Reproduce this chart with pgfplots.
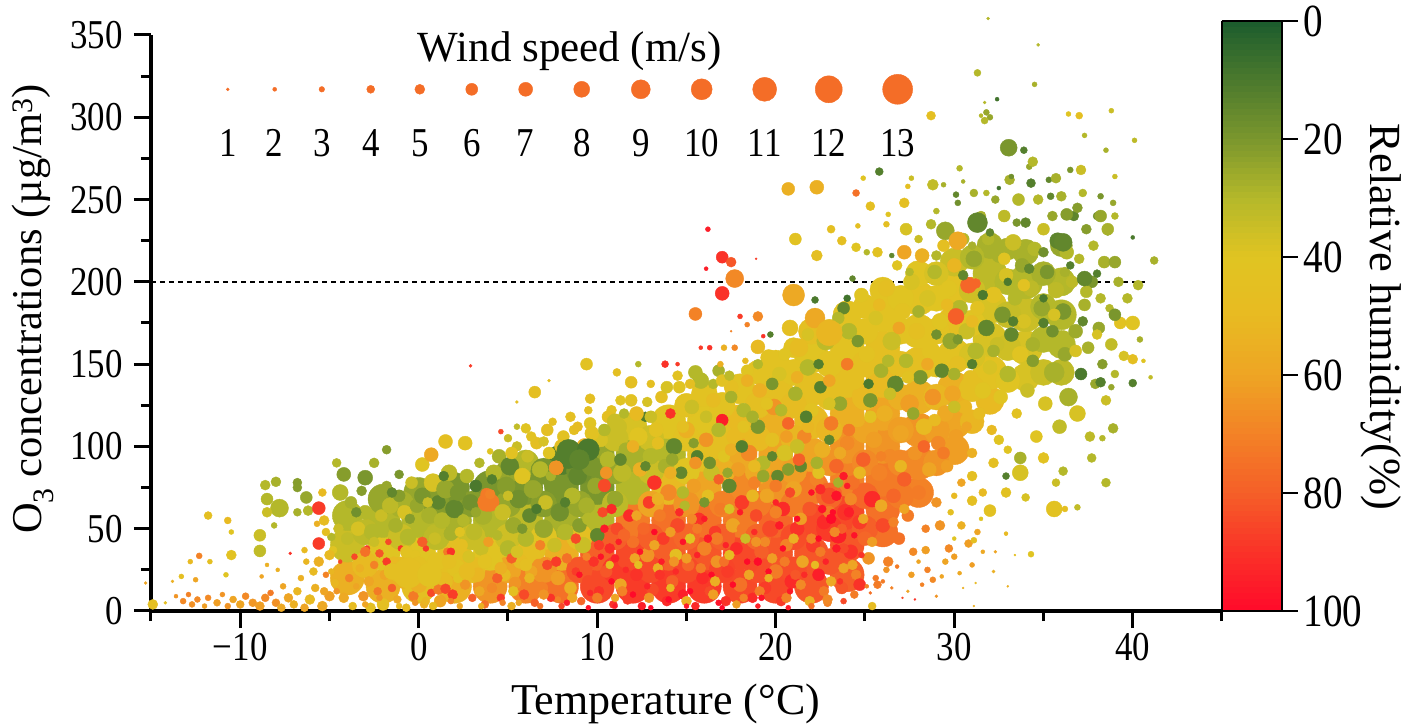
\documentclass[border=0pt]{standalone}
\usepackage{pgfplots}
\usepackage{pgfplotstable}
\usepackage{fontspec}
\setmainfont{Liberation Serif}
\newfontfamily\narrowfam[FakeStretch=0.85]{Liberation Serif}
\pgfplotsset{compat=1.18}
\pgfplotstableread{
x y r h
-4 20 17 55
-4 40 17 35
-4 58 15 30
-2 15 17 55
-2 35 17 40
-2 55 17 30
-2 68 15 25
0 15 17 45
0 35 17 40
0 55 17 30
0 72 15 25
2 15 17 55
2 35 17 45
2 55 17 28
2 75 15 20
4 15 17 65
4 35 17 40
4 55 17 30
4 75 17 20
6 15 17 70
6 35 17 45
6 55 17 32
6 75 17 20
6 90 13 30
8 15 17 75
8 35 17 55
8 55 17 28
8 75 17 20
8 92 15 12
10 15 17 85
10 35 17 80
10 55 17 30
10 75 17 20
10 95 17 25
12 15 17 88
12 35 17 85
12 55 17 72
12 75 17 30
12 95 17 28
12 112 14 38
14 15 17 88
14 35 17 80
14 55 17 75
14 75 17 50
14 95 17 30
14 115 17 40
16 15 17 88
16 35 17 82
16 55 17 75
16 75 17 60
16 95 17 45
16 115 17 40
16 132 13 42
18 15 17 85
18 35 17 85
18 55 17 72
18 75 17 68
18 95 17 58
18 115 17 50
18 135 15 42
20 15 17 85
20 35 17 82
20 55 17 78
20 75 17 65
20 95 17 60
20 115 17 55
20 135 17 45
20 150 14 42
22 15 17 82
22 35 17 82
22 55 17 85
22 75 17 72
22 95 17 60
22 115 17 50
22 135 17 45
22 155 17 40
22 170 13 45
24 22 17 80
24 40 17 82
24 60 17 85
24 80 17 70
24 100 17 65
24 120 17 55
24 140 17 45
24 160 17 42
24 180 14 42
26 48 15 75
26 62 17 75
26 80 17 72
26 100 17 65
26 120 17 60
26 140 17 50
26 160 17 45
26 180 17 42
26 195 13 42
28 72 15 70
28 90 17 68
28 110 17 65
28 130 17 55
28 150 17 45
28 170 17 42
28 190 17 42
28 205 13 40
30 98 15 62
30 115 17 60
30 135 17 55
30 155 17 42
30 175 17 45
30 195 17 42
30 212 14 35
32 128 14 50
32 145 17 42
32 165 17 38
32 185 17 38
32 205 17 32
32 222 13 28
34 142 14 38
34 160 17 38
34 180 17 35
34 200 17 30
34 218 13 28
36 145 13 32
36 162 14 30
36 180 15 30
36 200 14 30
36 222 11 25
-3 28 13 50
-3 48 13 32
-1 25 13 48
-1 45 13 35
-1 65 13 28
1 25 13 45
1 45 13 32
1 65 13 22
3 25 13 48
3 45 13 35
3 65 13 22
5 25 13 60
5 45 13 36
5 65 13 25
5 85 12 25
7 25 13 65
7 45 13 40
7 65 13 22
7 85 13 20
9 25 13 82
9 45 13 45
9 65 13 25
9 85 13 18
11 25 13 88
11 45 13 80
11 65 13 32
11 85 13 25
11 105 13 35
13 25 13 85
13 45 13 80
13 65 13 60
13 85 13 35
13 105 13 36
15 25 13 85
15 45 13 78
15 65 13 65
15 85 13 40
15 105 13 42
15 125 12 42
17 25 13 86
17 45 13 80
17 65 13 70
17 85 13 55
17 105 13 45
17 125 13 42
19 25 13 84
19 45 13 78
19 65 13 72
19 85 13 58
19 105 13 50
19 125 13 45
19 145 12 42
21 25 13 84
21 45 13 84
21 65 13 72
21 85 13 62
21 105 13 52
21 125 13 48
21 145 13 42
21 160 10 42
23 30 13 82
23 50 13 88
23 70 13 78
23 90 13 65
23 110 13 52
23 130 13 45
23 150 13 42
23 170 12 42
25 50 13 80
25 70 13 78
25 90 13 68
25 110 13 60
25 130 13 50
25 150 13 45
25 170 13 42
25 185 12 42
27 70 13 72
27 90 13 68
27 110 13 62
27 130 13 55
27 150 13 45
27 170 13 42
27 190 13 40
29 90 13 65
29 110 13 62
29 130 13 52
29 150 13 42
29 170 13 42
29 190 13 40
29 205 12 38
31 115 12 52
31 135 13 45
31 155 13 38
31 175 13 40
31 195 13 36
31 215 12 30
33 140 12 40
33 160 13 36
33 180 13 34
33 200 13 30
33 220 11 28
35 145 13 35
35 165 13 30
35 185 13 30
35 205 12 28
-4.9 24 3 52
-4.8 37 4 40
-4.6 12 3 65
-4.4 30 2 85
-4.3 55 5 30
-4.2 8 5 58
-4 44 6 33
-3.9 20 4 70
-3.8 66 6 28
-3.7 3 4 48
-3.6 33 3 85
-3.5 15 3 60
-3.4 50 7 38
-3.3 26 4 55
-3.2 73 5 22
-3.1 9 5 65
-3 60 7 30
-2.9 38 3 88
-2.8 18 5 60
-2.7 2 5 45
-2.6 48 8 30
-2.5 28 4 70
-2.4 70 7 25
-2.3 12 4 72
-2.2 35 4 82
-2.1 58 6 35
-2 4 6 45
-1.9 22 5 60
-1.8 76 5 25
-1.7 42 3 85
-1.6 64 8 32
-1.5 14 4 80
-1.4 30 5 50
-1.3 52 7 28
-1.2 7 4 58
-1.1 70 6 22
-1 38 3 90
-.9 18 7 55
-.8 60 7 38
-.7 2 4 48
-.6 45 8 30
-.5 27 9 45
-.4 78 6 35
-.3 9 5 72
-.2 34 5 42
-.1 64 7 25
0 16 8 55
.1 52 7 30
.2 70 8 20
.3 4 4 55
.4 38 3 88
.5 24 10 44
.6 58 8 28
.7 11 4 85
.8 78 9 38
.9 44 6 35
1 30 9 42
1.1 66 7 14
1.2 6 6 60
1.3 55 8 30
1.4 18 9 48
1.5 74 9 25
1.6 36 4 72
1.7 84 8 32
1.8 47 7 28
1.9 10 5 88
2 62 9 15
2.1 26 9 42
2.2 72 8 20
2.3 3 3 60
2.4 40 6 45
2.5 55 6 30
2.6 16 5 65
2.7 82 7 30
2.8 33 6 38
2.9 66 8 18
3 8 4 80
3.1 48 8 32
3.2 76 6 10
3.3 22 7 52
3.4 90 5 30
3.5 38 7 35
3.6 58 9 28
3.7 4 4 75
3.8 71 6 72
4 66 9 72
4.1 14 5 68
4.2 84 8 30
4.3 30 7 40
4.4 46 5 30
4.5 94 7 28
4.6 8 4 88
4.7 60 8 35
4.8 22 6 50
4.9 76 9 22
5 38 8 30
5.1 88 9 15
5.2 3 4 55
5.3 52 8 26
5.4 17 6 65
5.5 100 5 35
5.6 68 9 18
5.7 30 7 48
5.8 82 8 40
5.9 10 5 85
6 44 8 30
6.1 94 6 35
6.2 58 7 15
6.3 24 6 60
6.4 74 9 25
6.5 5 4 80
6.6 102 6 45
6.7 36 7 45
6.8 86 8 30
6.9 14 6 70
7 50 9 25
7.1 66 7 35
7.2 28 5 85
7.3 96 6 40
7.4 8 4 90
7.5 78 9 20
7.6 40 7 35
7.7 87 7 65
7.8 20 7 62
7.9 60 9 18
8 3 3 85
8.1 106 6 42
8.2 48 8 30
8.3 32 5 75
8.4 92 9 12
8.5 14 6 55
8.6 70 8 30
8.7 110 5 45
8.8 24 4 88
8.9 82 9 15
9 52 7 22
9.1 6 4 78
9.2 40 8 35
9.3 100 8 55
9.4 64 8 28
9.5 18 6 85
9.6 114 6 40
9.7 88 10 20
9.8 30 5 90
9.9 76 8 25
10 46 7 15
10.1 12 5 90
10.2 104 7 38
10.3 60 5 85
10.4 76 6 85
10.5 24 6 82
10.6 92 8 30
10.7 38 5 92
10.8 122 5 42
10.9 4 4 90
11 68 8 25
11.1 50 6 85
11.2 112 8 35
11.3 16 6 60
11.4 84 9 32
11.5 30 6 85
11.6 98 7 28
11.7 7 5 88
11.8 58 6 92
11.9 128 6 42
12 42 6 75
12.1 74 8 30
12.2 22 6 90
12.3 106 9 40
12.4 86 7 55
12.5 3 4 95
12.6 50 6 78
12.7 118 5 12
12.8 34 7 65
12.9 66 6 88
13 94 8 30
13.1 13 6 85
13.2 78 7 90
13.3 110 7 42
13.4 26 5 55
13.5 58 6 72
13.6 130 6 45
13.7 44 6 88
13.8 88 7 28
13.9 6 5 92
14 72 8 68
14.1 120 5 90
14.2 18 6 80
14.3 100 8 15
14.4 34 6 45
14.5 52 7 85
14.6 136 6 40
14.7 84 6 15
14.8 10 5 95
14.9 64 5 30
15 110 8 55
15.1 28 6 78
15.2 44 5 40
15.3 124 7 35
15.4 76 7 62
15.5 3 4 92
15.6 94 6 12
15.7 56 6 90
15.8 140 8 30
15.9 20 6 92
16 38 7 70
16.1 104 7 65
16.2 70 6 45
16.3 12 5 85
16.4 84 8 35
16.5 128 7 48
16.6 48 6 88
16.7 30 6 65
16.8 146 6 28
16.9 62 6 72
17 116 6 95
17.1 94 6 40
17.2 6 5 90
17.3 24 6 88
17.4 76 7 15
17.5 136 7 45
17.6 52 7 60
17.7 106 8 50
17.8 38 6 92
17.9 86 7 62
18 16 7 75
18.1 66 7 88
18.2 122 7 30
18.3 44 5 35
18.4 146 6 40
18.5 96 8 68
18.6 28 7 85
18.7 8 5 92
18.8 78 6 70
18.9 58 6 85
19 112 7 20
19.1 134 7 55
19.2 36 7 80
19.3 90 7 30
19.4 14 6 88
19.5 70 7 60
19.6 154 8 42
19.7 50 8 85
19.8 104 7 45
19.9 124 8 65
20 24 7 72
20.1 82 6 15
20.2 144 7 38
20.3 6 5 88
20.4 62 7 92
20.5 96 8 38
20.6 40 6 70
20.7 114 6 78
20.8 172 8 45
20.9 18 7 92
21 74 8 60
21.1 132 7 28
21.2 50 7 90
21.3 160 9 48
21.4 88 6 15
21.5 30 6 60
21.6 106 7 68
21.7 10 5 82
21.8 148 8 30
21.9 62 7 82
22 122 7 42
22.1 40 7 88
22.2 178 10 58
22.3 80 7 70
22.4 22 6 95
22.5 136 6 12
22.6 98 8 55
22.7 54 7 92
22.8 164 9 32
22.9 5 4 70
23 70 8 85
23.1 114 7 72
23.2 32 7 82
23.3 152 8 42
23.4 88 7 78
23.5 46 8 95
23.6 126 7 25
23.7 14 6 82
23.8 184 6 15
23.9 60 8 90
24 102 7 68
24.1 170 8 30
24.2 36 7 90
24.3 78 7 75
24.4 140 9 45
24.5 22 5 70
24.6 116 7 55
24.7 54 7 88
24.8 192 7 40
24.9 92 7 80
25 44 7 78
25.1 156 8 42
25.2 32 6 65
25.3 128 7 20
25.4 68 8 92
25.5 104 8 62
25.6 178 7 38
25.7 16 4 72
25.8 84 8 70
25.9 146 7 28
26 52 7 85
26.1 120 8 55
26.2 196 8 45
26.3 30 5 70
26.4 94 7 68
26.5 164 9 35
26.6 70 7 78
26.7 138 8 15
26.8 210 5 40
26.9 44 6 75
27 108 8 60
27.1 182 8 42
27.2 80 7 80
27.3 152 7 30
27.4 58 6 72
27.5 126 9 62
27.6 200 8 38
27.7 36 4 68
27.8 96 7 65
27.9 170 8 45
28 72 7 72
28.1 142 7 20
28.2 216 7 55
28.3 112 8 50
28.4 50 4 70
28.5 190 8 38
28.6 86 7 60
28.7 158 9 42
28.8 130 8 65
28.9 206 7 30
29 66 5 65
29.1 102 7 68
29.2 176 8 40
29.3 146 7 15
29.4 222 6 45
29.5 120 8 58
29.6 88 6 62
29.7 196 8 40
29.8 164 8 25
29.9 132 8 60
30 210 7 52
30.1 106 7 62
30.2 150 8 45
30.3 184 8 30
30.4 78 4 60
30.5 226 6 30
30.6 124 7 52
30.7 170 8 35
30.8 198 8 78
30.9 142 7 45
31 96 5 55
31.1 214 8 25
31.2 158 8 30
31.3 184 7 42
31.4 120 6 48
31.5 240 5 28
31.6 134 8 40
31.7 204 7 32
31.8 172 8 15
31.9 226 6 30
32 148 7 38
32.1 110 5 50
32.2 192 8 42
32.3 250 4 25
32.4 162 7 35
32.5 216 7 28
32.6 130 7 40
32.7 180 8 20
32.8 240 6 32
32.9 204 7 38
33 144 8 30
33.1 262 5 28
33.2 168 7 15
33.3 224 8 35
33.4 190 7 30
33.5 120 5 42
33.6 250 6 30
33.7 156 8 40
33.8 210 7 25
33.9 176 7 38
34 236 5 15
34.1 134 7 35
34.2 270 3 25
34.3 196 8 32
34.4 162 7 28
34.5 220 7 30
34.6 106 6 40
34.7 250 5 30
34.8 146 8 35
34.9 184 8 25
35 232 6 35
35.1 126 7 38
35.2 206 7 20
35.3 262 3 15
35.4 168 8 30
35.5 240 5 25
35.6 145 10 28
35.7 195 8 32
35.8 225 8 14
35.9 112 7 33
36 252 5 28
36.1 182 8 20
36.2 156 7 25
36.3 218 7 30
36.4 130 9 28
36.5 268 3 20
36.6 200 6 32
36.7 240 5 14
36.8 170 7 26
36.9 120 8 38
37 214 5 30
37.1 144 6 10
37.2 254 4 30
37.3 186 6 28
37.4 232 5 22
37.5 160 6 28
37.6 106 5 32
37.7 200 6 20
37.8 222 5 30
37.9 138 5 25
38 240 4 18
38.1 172 6 25
38.2 190 5 30
38.3 150 5 22
38.4 212 6 28
38.5 128 5 35
38.6 230 3 22
38.7 184 4 30
38.8 162 6 33
38.9 248 3 25
39 144 4 30
39.2 200 5 28
39.3 175 6 42
39.5 155 5 38
39.7 190 5 30
40 175 7 40
40 153 5 45
40.3 198 5 30
40.4 165 3 28
40.6 152 2 40
.4 6 4 52
1.1 13 5 72
2.2 20 5 40
3.4 12 5 58
4.4 20 5 80
5.3 12 5 45
6.2 20 5 52
7 10 5 65
7.7 30 5 88
8.6 8 5 58
9.4 33 4 70
10 8 5 72
10.7 28 4 45
11.4 12 5 70
12.1 32 5 60
12.9 8 5 65
13.5 22 5 90
14.3 30 5 65
15 6 5 55
15.8 26 5 72
16.5 10 5 62
17.1 30 5 75
17.8 4 4 62
18.5 22 5 60
19.1 12 5 72
19.8 32 5 62
20.6 8 5 70
21.1 22 5 82
21.9 6 5 55
22.5 36 5 72
23.1 18 5 58
23.8 38 5 85
24.3 28 5 60
8.8 44 5 85
9.5 56 6 30
10.1 40 5 88
10.8 62 5 92
11.5 46 6 78
12.2 58 5 60
12.9 40 5 80
13.4 68 6 55
14.1 48 5 62
14.8 72 6 30
15.3 56 5 68
16 66 5 20
16.7 44 6 72
17.4 62 5 38
18.1 50 5 72
18.7 70 6 52
19.4 42 5 68
20 60 6 70
20.8 72 5 85
21.4 56 6 62
22 44 5 70
22.5 74 5 92
23 60 6 72
23.7 50 5 80
24.2 68 6 68
24.9 56 5 60
25.4 42 5 62
25.9 64 6 58
26.6 54 5 70
27.2 62 5 60
10.5 84 6 65
11.3 92 6 15
12 100 6 55
12.7 88 5 15
13.4 102 6 45
14.1 84 6 55
14.8 112 6 45
15.5 90 6 65
16.1 118 6 35
16.8 80 5 80
17.5 98 6 55
18.2 112 6 42
18.8 88 6 50
19.5 126 6 42
20 76 6 72
20.6 106 6 62
21.3 92 6 80
21.8 112 6 52
22.4 84 6 42
23 126 6 38
23.6 96 6 58
24.1 110 6 72
24.7 84 6 52
25.3 118 6 42
25.9 94 5 70
26.4 132 6 35
27 88 6 52
27.7 120 6 25
28.3 100 6 78
28.9 116 6 50
29.4 96 6 72
30 124 6 35
30.7 112 5 60
16.5 138 5 30
17.5 130 6 28
18.4 140 6 55
19 150 5 30
19.8 138 6 20
20.5 156 6 40
21.2 142 6 55
21.8 168 6 38
22.4 150 5 12
23 140 6 60
23.5 178 6 30
24 150 6 72
24.6 164 6 20
25.2 138 5 10
25.8 186 6 50
26.3 152 6 30
26.9 172 6 60
27.4 142 6 42
28 182 6 28
28.5 150 6 58
29 168 5 18
29.6 186 6 50
30 144 6 28
30.5 204 5 15
31 176 6 50
31.6 192 5 10
32.2 158 6 28
32.8 214 6 40
33.3 176 5 12
33.9 198 6 42
34.4 152 6 22
35 218 5 18
35.6 180 6 38
36.2 206 5 28
36.8 158 6 38
37.4 194 6 30
38 168 5 38
-3.5 60 5 18
-2.5 42 5 35
-1.5 72 5 15
-.5 56 5 22
.5 66 5 35
1.4 82 5 12
2.3 48 5 40
3.2 60 5 25
4.1 80 5 12
5 70 5 35
5.8 50 5 20
6.6 62 5 10
7.4 82 5 28
8.2 66 5 12
8.8 96 6 35
-3 36 5 75
-1.8 30 4 88
.2 42 5 80
1.8 36 4 90
3.9 42 5 62
5.2 32 5 80
6.8 40 5 70
8.3 5 3 95
9 22 3 98
9.6 11 3 92
10.2 33 3 98
10.8 18 3 100
11.2 42 3 95
11.6 25 3 92
12 10 3 100
12.4 36 3 98
12.8 15 3 94
13.2 48 3 100
13.6 30 3 96
14 7 3 100
14.4 24 3 92
14.8 42 3 98
15.2 12 3 100
15.6 34 3 94
16 56 3 96
16.4 22 3 100
16.8 5 3 98
17.2 40 3 94
17.6 16 3 100
18 60 3 96
18.4 30 3 100
18.8 48 3 92
19.2 8 3 98
19.6 24 3 100
20 66 3 94
20.4 38 3 100
20.8 12 3 96
21.2 56 3 100
21.6 22 3 92
22 72 3 98
22.4 44 3 100
22.8 30 3 94
23.2 60 3 100
23.6 18 3 90
24 76 3 96
24.4 46 3 98
24.8 34 3 90
10.4 50 4 96
11 32 4 94
14.6 60 4 92
16.2 44 4 96
19 30 4 100
20.2 52 4 96
22.6 62 4 98
23.4 38 4 96
5.2 96 6 42
6.3 106 5 42
7.2 110 6 45
8 100 7 45
8.9 112 5 48
9.7 108 7 42
10.6 118 6 45
11.3 128 5 40
12.2 120 7 50
13 118 6 35
14.2 92 6 25
15.4 102 5 22
16.3 90 6 18
16.8 110 7 30
17.3 84 5 25
18.1 100 6 12
18.7 118 6 28
19.3 82 6 25
19.8 94 5 14
20.3 122 6 30
20.7 86 6 22
21.2 100 7 35
21.7 118 6 12
22.3 90 6 28
23 104 5 14
23.5 78 5 28
11 8 4 60
12.3 28 4 45
13.2 40 5 60
14.1 14 4 50
15 32 5 62
15.6 50 5 72
16.6 18 5 55
17.4 34 5 48
18.2 8 4 70
18.9 42 5 65
19.6 20 4 55
20.5 30 5 72
21 44 5 55
21.4 16 5 68
22.2 28 4 50
22.7 12 5 72
23.3 48 5 68
23.8 26 5 60
23.4 70 5 98
23.8 82 4 96
23.1 56 5 100
24.1 60 5 95
30.2 165 5 20
31 150 5 12
33 200 4 10
34.2 208 5 15
35 190 4 10
35.5 170 6 18
36.5 210 4 12
37.2 176 5 15
38 205 4 12
33.5 236 4 20
32 230 4 14
31 222 4 28
29 216 5 30
28 226 4 35
27.5 206 4 30
1.7 30 7 45
2.7 24 8 48
3.7 30 7 42
4.6 26 6 55
5.5 36 6 38
6 28 6 45
0 28 8 44
-1.5 24 8 45
-.7 36 6 42
-3 4 3 60
-2.2 8 3 65
-1.1 3 3 50
-.2 5 3 65
.8 3 4 48
1.8 6 3 70
3.5 3 3 55
4.7 5 3 70
5.6 5 3 60
6.8 3 3 75
7.8 7 3 70
9.5 2 2.5 98
11 3 2.5 95
13 2 2.5 100
15 3 2.5 96
17 2 2.5 100
19 3 2.5 94
20.7 2 2.5 96
22 3 3 75
-14.9 4 5 45
-15.3 17 1.5 60
-14.2 5 1.5 45
-13.6 9 2 65
-13.2 6 3 68
-12.7 4 3 66
-12.9 10 2.5 70
-12.4 7 3 68
-12 3 2.5 62
-11.8 8 3 68
-11.3 5 3.5 62
-11 10 2.5 65
-10.7 3 3 65
-10.4 7 3.5 60
-10 4 4 60
-9.7 9 3.5 68
-9.3 5 4 64
-8.9 3 4.5 62
-8.6 8 4 68
-8.3 11 3 72
-8 5 4 66
-7.7 2 4 58
-7.3 8 4.5 60
-7 4 4 55
-6.8 12 4 52
-6.4 2 4 60
-6.1 7 5 50
-5.8 14 4 55
-5.4 3 5 58
-5 9 5 62
-4.7 17 4 52
-7.6 15 3 60
-7.9 25 2 55
-6.6 20 3 55
-6.3 30 3 52
-5.9 24 4 50
-5.6 30 5 55
-5.2 22 3 70
-5 34 5 50
-5.3 12 4 60
-4.9 45 4 30
-4.5 50 5 35
-8.8 21 2 60
-8.5 28 2 55
-7.2 35 1.5 90
-6.4 37 3 50
-11.8 58 4 45
-10.7 55 3.5 50
-10.5 48 2.5 40
-10.5 34 5 42
-12.3 33.5 3 70
-12.8 30 2.5 50
-11.7 30 2.5 45
-13.3 21 2.5 45
-12.5 19 2.5 60
-10.8 22 2.5 40
-13.8 18 1.5 55
-8.9 46 6 35
-8.9 36.5 6 33
-8.6 76.5 5 30
-8 78.5 5 28
-8.5 68 6 30
-7.8 62.5 9 30
-8.5 60 5 35
-8.1 52 3 30
-6.8 78 4.5 22
-6.8 75 4.5 22
-6.3 69 6 25
-6.8 60 4 28
-6.2 61 5 30
-5.4 72 4 50
-5.2 48 4 45
-5.3 55 5 48
-5.7 53 3 55
-5.6 62.5 6.5 88
-5.6 41 6 88
-4.4 72 8 30
-4.2 83 7 22
-4.6 90 4.5 30
-3 81 7.5 20
-2.5 90 5 28
-1.8 98 4.5 22
-1.1 83 4.5 20
.2 89 7 40
.7 95 7 58
1.5 103 7 45
2.6 102 7 42
4.6 109 2.5 85
5.5 112 3 33
5.5 127 1.5 45
6.5 133 6 45
7.3 140 1.5 45
9.4 150 6 42
13.8 150 3.5 90
2.9 149 1.5 88
9.6 129 5 45
11.1 145 4 45
11.9 139 6 45
13.9 136 6 38
12.3 150 3 30
11 115 8 35
8.4 97 12 12
9.5 98 11 10
9 92 10 14
10.4 76.5 6 85
1.5 13.5 5 85
-.6 23 15 45
.6 22 12 42
3.8 66 9 72
4 71 5 70
7.7 87 7 65
4 97 3 40
5 105 4 35
6 111 5 40
7 103 5 38
7.5 115 4 45
8.5 118 5 45
9.5 122 4 45
10.4 110 6 30
11.5 120 5 30
12.8 127 5 38
13 138 4 45
14.5 143 5 42
15.2 138 5 45
15.5 145 7 30
17 140 6 42
17.4 143 5 32
18.3 152 3 50
16.9 150 3 55
14.5 150 2 88
15.8 160 2 88
22.9 7 5 68
23.8 6 3 85
24.4 10 4 72
24.7 16 6 90
25.4 3 4 48
25.1 15 2 70
25.3 11 1.5 75
25.6 20 3 72
26 18 2 72
26.2 25 3 65
26.5 14 1.5 70
26.8 27 2 72
27.1 8 1 85
27.4 12 1.5 60
27.6 22 3 62
27.8 7 1 90
28 30 2 60
28.2 16 2 70
28.4 37 4 62
28.5 25 3 70
28.8 19 3 68
29 9 1.5 65
29.3 21 2 60
29.5 30 3 60
29.7 38 4 68
30 44 2 40
30 33 3 62
30.3 23 2 58
30.5 14 1 55
30.8 41 4 62
31 28 2.5 62
31.1 43 3 45
31.1 3 1 55
31.2 17 1 50
31.3 48 3 60
31.5 56 2 40
31.6 36 2 58
32.2 24 1.5 55
32.3 36 1.5 60
33 15 1 55
32.9 47 2 50
33.4 34 1 45
29.2 52 5 65
29.8 60 3 45
30.4 52 4 55
31 67 5 45
31.6 72 4 50
32.2 90 5 45
32.5 104 5 40
33 98 4 40
31 82 5 45
30 70 3 50
19 179 5 68
18 179 2.5 88
18.4 174 2.5 70
17.5 170 1 70
19.7 168 3 12
19.3 167 2 90
19 160.5 7 50
16.3 160 2.5 90
17.1 160 3 55
17.7 160 3 68
23.1 232 4 45
23.7 225 4.5 45
24.5 221 4.5 40
25.7 218 5 42
25.1 218 3 30
26.3 241 2.5 40
27.3 232 6 38
26.2 235 3 45
27.2 248 5 45
27.4 258 2.5 45
27.6 263 2.5 35
24.9 263 2.5 40
24.6 234 2.5 45
27.2 218 7 60
26.5 216 2.5 15
24.3 202 3 15
22.2 189 3.5 10
24 190 3.5 8
23 169 13 52
30.3 269 3 30
29.4 259 2.5 28
30.5 261 2 28
30.1 253 3 15
31.1 254 4 28
31.8 254 3 30
32.5 257 2 8
33.2 264 2.5 18
34.3 260 4.5 12
35.7 263 5 28
35.4 252 3.5 15
37.1 268 5 35
39 264 2.5 35
38.2 252 3 20
36.3 241 6 22
29 243 3 30
28.7 235 5 30
30.2 248 3 18
36.9 245 5 22
38.2 240 6 25
39 240 3.5 30
38.6 232 6 28
31.9 360 1.5 30
34.7 344 1.5 30
31.3 327 3.5 30
34.5 320 2.5 28
32.4 311 2 8
31.7 309 1.5 30
31.8 303 3 25
31.5 301 2 30
28.7 301 4.5 45
33.05 281.5 8.5 20
33.9 280 3.5 12
25.8 267 4 12
20.7 256.5 6.5 55
22.3 257.5 7 55
24.5 254 3.5 75
16.2 232 2.5 95
16.1 208 2 95
17 215 6 90
17.5 212 5 82
18.9 214 1 88
17 193 7 90
17.7 202 9 68
15.5 180.5 6.5 70
21 192 11 58
21.1 226 6 42
22.3 216 5.5 45
25.3 246 4.5 45
34.4 273 5 30
28.8 259 5.5 33
37 301 3.5 45
36.4 302 2.5 40
38.8 304 2.5 35
32 300 3 25
31.7 298 3.5 30
40.1 286 2.5 32
38.5 280 2.5 28
37.3 289 2.5 30
41.2 213 4 28
40 227 2 10
31.3 236 10 15
29.5 231 9 25
30.2 225 9 58
36.1 224 9 15
39 212 6 25
37.3 202 7.5 15
31.2 199 5 78
30.1 179 8 80
35 175 5 12
39 180 6 20
35.6 62 8 42
36.2 62 3 45
36.9 63 3 33
38.5 78 4.5 30
37.7 93 4.5 30
36.1 85 4.5 30
35.7 78 4 35
33.7 84 8 38
32.9 82 3.5 12
33.7 93 6 28
35 93 5.5 42
38.9 111 5 28
38.3 105 3 30
32 61 6 43
34 69 4 38
32.9 72 5 43
34.3 34.5 3 40
38.2 139 5 12
40 138.5 4 12
41 142 2 33
38.8 136 3 25
-10.7 317 1.5 76
-8.07 317 2 76
-5.43 317 2.8 76
-2.69 317 4 76
.06 317 5 76
2.97 317 6 76
5.99 317 7 76
9.13 317 8 76
12.44 317 9.5 76
15.85 317 10.5 76
19.38 317 12 76
22.97 317 13.5 76
26.83 317 15 76
}\points
\newcommand{\tickfont}{\narrowfam\fontsize{41}{41}\selectfont}
\newcommand{\barfont}{\narrowfam\fontsize{46}{46}\selectfont}
\newcommand{\labelfont}{\fontsize{44}{44}\selectfont}
\begin{document}
\begin{tikzpicture}
\path[use as bounding box] (-151pt,-114pt) rectangle (1257pt,611pt);
\begin{axis}[
  at={(0pt,0pt)}, anchor=south west,
  scale only axis, width=1071pt, height=576pt,
  xmin=-15, xmax=45, ymin=0, ymax=350,
  clip=false,
  axis x line*=bottom, axis y line*=left,
  axis line style={line width=4pt,-},
  tick align=outside,
  tick style={line width=3pt,black},
  major tick length=17pt, minor tick length=10pt,
  xtick={-10,0,10,20,30,40},
  xticklabels={−10,0,10,20,30,40},
  minor xtick={-15,-5,5,15,25,35,45},
  ytick={0,50,...,350},
  minor ytick={25,75,...,325},
  /pgf/number format/assume math mode=true,
  tick label style={font=\tickfont},
  xticklabel style={yshift=-2pt},
  yticklabel style={xshift=-8pt},
  xlabel={Temperature (°C)},
  xlabel style={font=\labelfont,yshift=-16pt,xshift=-21pt},
  ylabel={O\textsubscript{3} concentrations (µg/m\textsuperscript{3})},
  ylabel style={font=\fontsize{42.5}{42.5}\selectfont,yshift=10pt,xshift=14pt},
  colormap={rh}{rgb255=(27,92,45) rgb255=(75,121,45) rgb255=(122,150,45) rgb255=(180,184,42) rgb255=(224,196,34) rgb255=(232,186,34) rgb255=(238,165,36) rgb255=(243,130,38) rgb255=(245,95,40) rgb255=(250,50,40) rgb255=(255,10,42)},
  point meta min=0, point meta max=100,
  colorbar sampled,
  colorbar right,
  colorbar style={
    samples=101,
    at={(1,0)}, anchor=south west, xshift=0pt, yshift=-1pt,
    width=60pt, height=590pt,
    y dir=reverse,
    ytick={0,20,...,100},
    ytick pos=right,
    yticklabel pos=right,
    tick align=outside,
    axis on top,
    major tick length=16pt,
    tick style={line width=2.5pt,black},
    axis line style={line width=2.5pt},
    /pgf/number format/assume math mode=true,
    yticklabel style={font=\barfont,xshift=2pt},
  },
]
\addplot[
  scatter, only marks, mark=*,
  point meta=explicit,
  scatter/use mapped color={draw=mapped color,fill=mapped color},
  visualization depends on={\thisrow{r}\as\rr},
  scatter/@pre marker code/.append style={/tikz/mark size=\rr},
] table[x=x,y=y,meta=h] {\points};
\addplot[black,line width=1.8pt,dash pattern=on 5pt off 4pt] coordinates {(-15,200) (40.7,200)};
\node[font=\fontsize{43}{43}\selectfont] at (axis cs:8.46,340) {Wind speed (m/s)};
\foreach \px/\lab in {-10.7/1,-8.07/2,-5.43/3,-2.69/4,.06/5,2.97/6,5.99/7,9.13/8,12.44/9,15.85/10,19.38/11,22.97/12,26.83/13}{
  \edef\tmp{\noexpand\node[font=\noexpand\tickfont] at (axis cs:\px,284.5) {\lab};}\tmp
}
\node[font=\fontsize{44.5}{44.5}\selectfont,rotate=-90] at (axis cs:53.9,178.5) {Relative humidity(\%)};
\end{axis}
\end{tikzpicture}
\end{document}
